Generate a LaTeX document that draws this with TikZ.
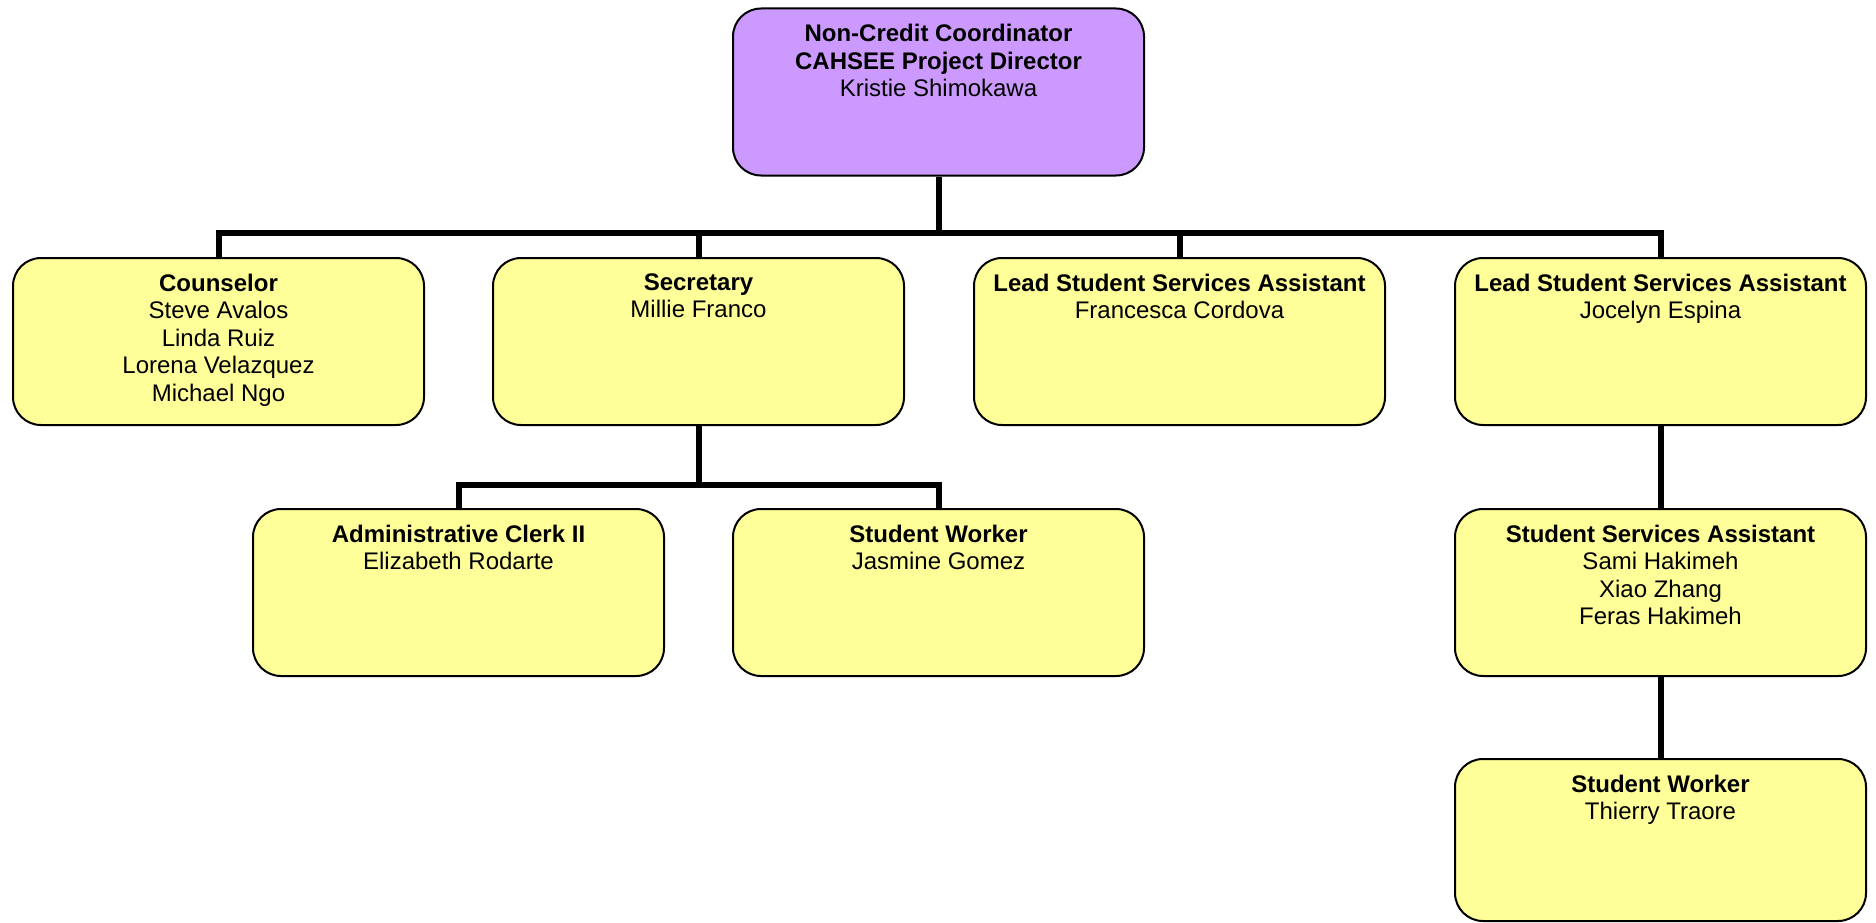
\documentclass[tikz,border=0pt]{standalone}
\usepackage{fontspec}
\setmainfont{Liberation Sans}
\definecolor{headfill}{HTML}{CC99FF}
\definecolor{cardfill}{HTML}{FFFF99}
\tikzset{
  card/.style={draw=black, line width=2pt, rounded corners=28pt,
    fill=cardfill, minimum width=411pt, minimum height=167pt, inner sep=0pt},
  headcard/.style={card, fill=headfill},
  cardtext/.style={anchor=north, align=center, inner sep=0pt, yshift=-16.5pt,
    font=\fontsize{24}{27.5}\selectfont},
  conn/.style={draw=black, line width=6pt, line join=miter}
}
\begin{document}
\begin{tikzpicture}[x=1pt,y=-1pt]
\useasboundingbox (0,0) rectangle (1876,923);

% boxes
\node[headcard] (head) at (938.5,92) {};
\node[card] (couns) at (218.5,341.5) {};
\node[card] (secr)  at (698.5,341.5) {};
\node[card] (lead1) at (1179.5,341.5) {};
\node[card] (lead2) at (1660.5,341.5) {};
\node[card] (clerk) at (458.5,592.5) {};
\node[card] (work1) at (938.5,592.5) {};
\node[card] (ssa)   at (1660.5,592.5) {};
\node[card, minimum height=162pt] (work2) at (1660.5,840) {};

% texts
\node[cardtext] (head-t) at (head.north) {\textbf{Non-Credit Coordinator}\\\textbf{CAHSEE Project Director}\\Kristie Shimokawa};
\node[cardtext] (couns-t) at (couns.north) {\textbf{Counselor}\\Steve Avalos\\Linda Ruiz\\Lorena Velazquez\\Michael Ngo};
\node[cardtext] (secr-t) at (secr.north) {\textbf{Secretary}\\Millie Franco};
\node[cardtext] (lead1-t) at (lead1.north) {\textbf{Lead Student Services Assistant}\\Francesca Cordova};
\node[cardtext] (lead2-t) at (lead2.north) {\textbf{Lead Student Services Assistant}\\Jocelyn Espina};
\node[cardtext] (clerk-t) at (clerk.north) {\textbf{Administrative Clerk II}\\Elizabeth Rodarte};
\node[cardtext] (work1-t) at (work1.north) {\textbf{Student Worker}\\Jasmine Gomez};
\node[cardtext] (ssa-t) at (ssa.north) {\textbf{Student Services Assistant}\\Sami Hakimeh\\Xiao Zhang\\Feras Hakimeh};
\node[cardtext] (work2-t) at (work2.north) {\textbf{Student Worker}\\Thierry Traore};

% connectors
\coordinate (bus) at (938.5,233);
\coordinate (bus2) at (698.5,485);
\draw[conn] (head.south) -- (bus);
\draw[conn] (couns.north) |- (bus) -| (lead2.north);
\draw[conn] (secr.north) -- (secr.north |- bus);
\draw[conn] (lead1.north) -- (lead1.north |- bus);
\draw[conn] (secr.south) -- (bus2);
\draw[conn] (clerk.north) |- (bus2) -| (work1.north);
\draw[conn] (lead2.south) -- (ssa.north);
\draw[conn] (ssa.south) -- (work2.north);
\end{tikzpicture}
\end{document}
